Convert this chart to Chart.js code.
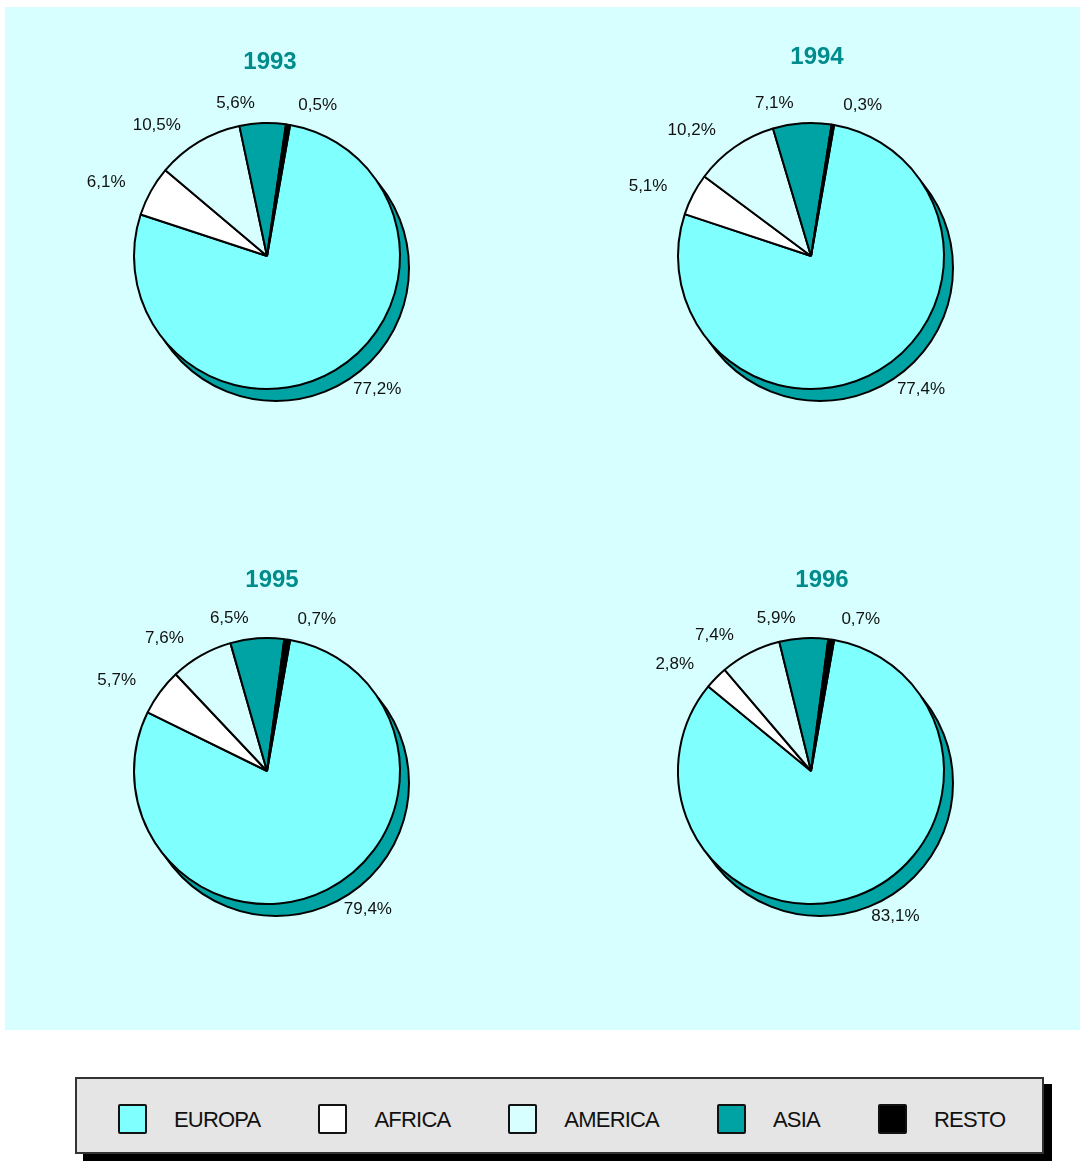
<!DOCTYPE html>
<html>
<head>
<meta charset="utf-8">
<script src="https://cdn.jsdelivr.net/npm/chart.js@4/dist/chart.umd.min.js"></script>
<style>
  body { margin: 0; background: #fff; font-family: "Liberation Sans", Arial, sans-serif; }
  #panel { position: absolute; left: 5px; top: 7px; width: 1075px; height: 1023px; background: #D7FFFF; }
  canvas.pie { position: absolute; }
  #legend {
    position: absolute; left: 75px; top: 1077px; width: 969px; height: 77px;
    box-sizing: border-box; background: #E5E5E5; border: 2px solid #333;
    box-shadow: 8px 7px 0 #000; padding: 6px 0 0 41px;
    display: flex; align-items: center; justify-content: flex-start; gap: 58px;
  }
  .item { display: flex; align-items: center; gap: 27px; }
  .swatch { width: 29px; height: 30px; box-sizing: border-box; border: 2px solid #111; border-radius: 2px; }
  .item span { font-size: 22px; letter-spacing: -0.8px; color: #111; position: relative; top: 1px; }
</style>
</head>
<body>
<div id="panel"></div>
<div id="legend"></div>
<script>
const categories = ['EUROPA', 'AFRICA', 'AMERICA', 'ASIA', 'RESTO'];
const years = ['1993', '1994', '1995', '1996'];
const europa = [77.2, 77.4, 79.4, 83.1];
const africa = [6.1, 5.1, 5.7, 2.8];
const america = [10.5, 10.2, 7.6, 7.4];
const asia = [5.6, 7.1, 6.5, 5.9];
const resto = [0.5, 0.3, 0.7, 0.7];

const colors = ['#80FFFF', '#FFFFFF', '#D7FFFF', '#00A3A3', '#000000'];
const centers = [[267, 256], [811, 256], [267, 771], [811, 771]];
const titleShift = [[3, -194], [6, -199], [5, -191], [11, -191]];
const radius = 133;
const canvasW = 540, canvasH = 440;

// 3D-ish teal shadow behind the pie
const shadowPlugin = {
  id: 'shadow',
  beforeDatasetsDraw(chart) {
    const arc = chart.getDatasetMeta(0).data[0];
    const ctx = chart.ctx;
    ctx.save();
    ctx.beginPath();
    ctx.arc(arc.x + 9, arc.y + 12, arc.outerRadius, 0, Math.PI * 2);
    ctx.fillStyle = '#00A3A3';
    ctx.fill();
    ctx.lineWidth = 2;
    ctx.strokeStyle = '#000';
    ctx.stroke();
    ctx.restore();
  }
};

// percentage labels and the year title
const labelPlugin = {
  id: 'labels',
  afterDatasetsDraw(chart, args, opts) {
    const ctx = chart.ctx;
    const meta = chart.getDatasetMeta(0);
    const values = chart.data.datasets[0].data;
    ctx.save();
    ctx.font = '17px "Liberation Sans", Arial, sans-serif';
    ctx.fillStyle = '#111';
    ctx.textBaseline = 'middle';
    meta.data.forEach((arc, i) => {
      const mid = (arc.startAngle + arc.endAngle) / 2;
      const d = arc.outerRadius + 21;
      const ax = arc.x + Math.cos(mid) * d;
      const ay = arc.y + Math.sin(mid) * d;
      const right = Math.cos(mid) >= 0;
      ctx.textAlign = right ? 'left' : 'right';
      const text = values[i].toFixed(1).replace('.', ',') + '%';
      ctx.fillText(text, right ? ax + 7 : ax - 7, ay + 1);
    });
    const first = meta.data[0];
    ctx.font = 'bold 24px "Liberation Sans", Arial, sans-serif';
    ctx.fillStyle = '#008C8C';
    ctx.textAlign = 'center';
    ctx.fillText(opts.title, first.x + opts.shift[0], first.y + opts.shift[1]);
    ctx.restore();
  }
};

years.forEach((year, k) => {
  const canvas = document.createElement('canvas');
  canvas.className = 'pie';
  canvas.width = canvasW;
  canvas.height = canvasH;
  canvas.style.left = (centers[k][0] - canvasW / 2) + 'px';
  canvas.style.top = (centers[k][1] - canvasH / 2) + 'px';
  document.body.appendChild(canvas);

  new Chart(canvas, {
    type: 'pie',
    data: {
      labels: categories,
      datasets: [{
        data: [europa[k], africa[k], america[k], asia[k], resto[k]],
        backgroundColor: colors,
        borderColor: '#000',
        borderWidth: 2
      }]
    },
    options: {
      responsive: false,
      animation: false,
      events: [],
      rotation: 10,
      radius: radius,
      layout: { padding: 0 },
      plugins: {
        legend: { display: false },
        tooltip: { enabled: false },
        labels: { title: year, shift: titleShift[k] }
      }
    },
    plugins: [shadowPlugin, labelPlugin]
  });
});

const legend = document.getElementById('legend');
categories.forEach((name, i) => {
  const item = document.createElement('div');
  item.className = 'item';
  item.innerHTML = `<div class="swatch" style="background:${colors[i]}"></div><span>${name}</span>`;
  legend.appendChild(item);
});
</script>
</body>
</html>
